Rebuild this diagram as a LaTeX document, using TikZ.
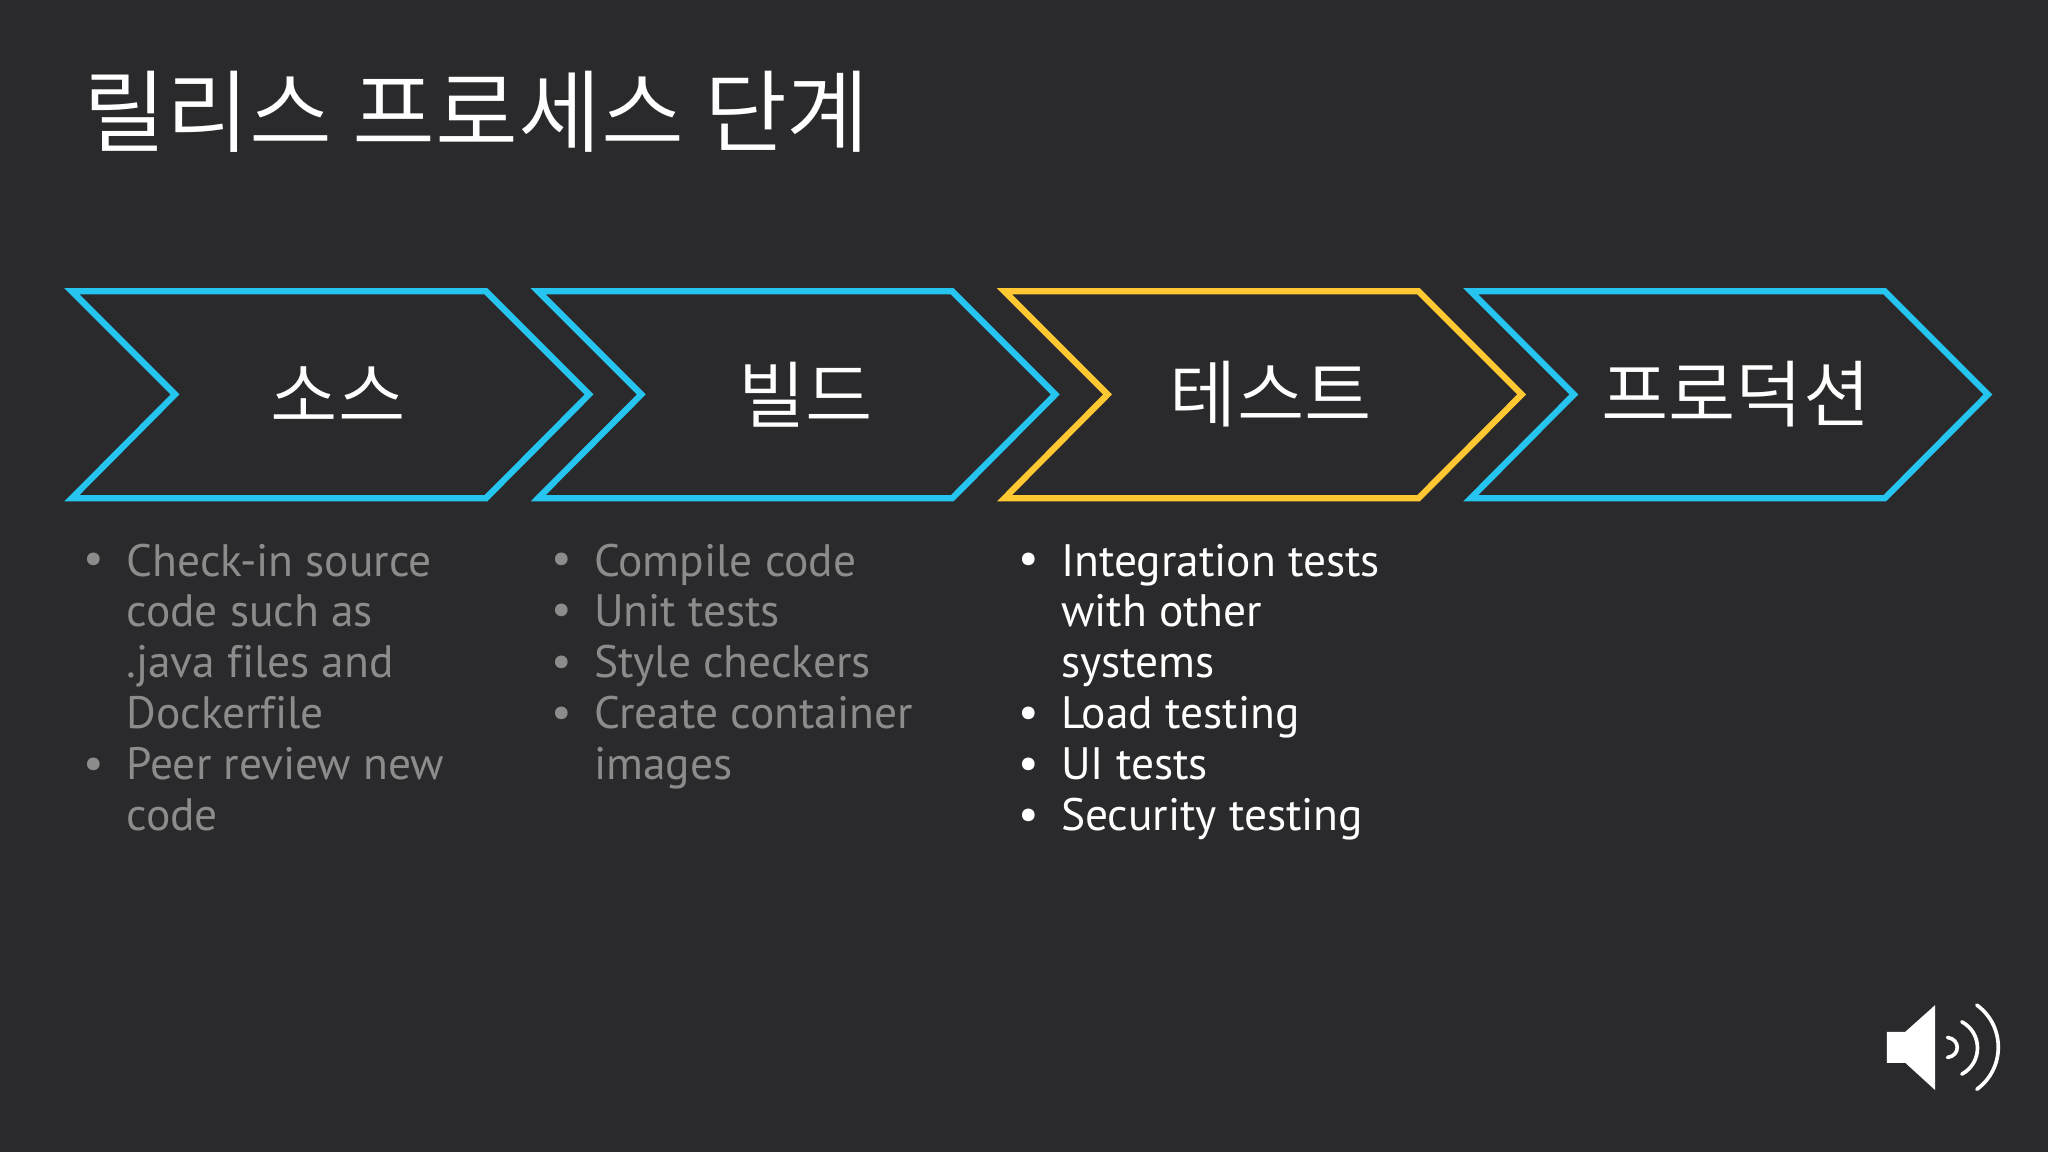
\documentclass[tikz,border=0pt]{standalone}
\usepackage{fontspec}
\setmainfont[Ligatures=NoCommon]{PT Sans}
\newfontfamily\krfont{Noto Sans CJK KR DemiLight}
\definecolor{bgc}{HTML}{2A2A2C}
\definecolor{bluec}{HTML}{25C5EF}
\definecolor{yelc}{HTML}{FFC832}
\definecolor{dimc}{HTML}{8C8C8C}
\tikzset{
 chev/.style={line width=2.4pt,miter limit=10,line join=miter},
 heading/.style={text=white,inner sep=0pt,font=\krfont\fontsize{34.5}{34.5}\selectfont,anchor=base west},
 steplabel/.style={text=white,inner sep=0pt,font=\krfont\fontsize{28}{28}\selectfont,anchor=center},
 item/.style={inner sep=0pt,anchor=base west,font=\fontsize{17.4}{20}\selectfont},
 dot/.style={inner sep=0pt,anchor=center,font=\fontsize{17.4}{20}\selectfont},
 spk/.style={white,line width=1.4pt,line cap=round}
}
\newcommand{\chevron}[3]{\draw[chev,#3] (#1,223) -- (#1+317,223) -- (#1+396,302) -- (#1+317,381.5) -- (#1,381.5) -- (#1+79,302) -- cycle;}
\begin{document}
\begin{tikzpicture}[x=0.5pt,y=-0.5pt]
\useasboundingbox[fill=bgc] (0,0) rectangle (1568,882);
\node[heading] (title) at (63.5,111.5) {릴리스 프로세스 단계};
\chevron{55}{a}{bluec}
\chevron{412}{b}{bluec}
\chevron{769}{c}{yelc}
\chevron{1126}{d}{bluec}
\node[steplabel] (s1) at (259,302) {소스};
\node[steplabel] (s2) at (617,302) {빌드};
\node[steplabel] (s3) at (973,302) {테스트};
\node[steplabel] (s4) at (1329,302) {프로덕션};
\node[dot,text=dimc] (b11) at (72,431) {•};
\node[dot,text=dimc] (b12) at (72,588) {•};
\node[item,text=dimc] (t11) at (96.5,441) {Check-in source};
\node[item,text=dimc] (t12) at (96.5,480) {code such as};
\node[item,text=dimc] (t13) at (96.5,519) {.java files and};
\node[item,text=dimc] (t14) at (96.5,558) {Dockerfile};
\node[item,text=dimc] (t15) at (96.5,597) {Peer review new};
\node[item,text=dimc] (t16) at (96.5,636) {code};
\node[dot,text=dimc] (b21) at (430,431) {•};
\node[dot,text=dimc] (b22) at (430,470) {•};
\node[dot,text=dimc] (b23) at (430,510) {•};
\node[dot,text=dimc] (b24) at (430,549) {•};
\node[item,text=dimc] (t21) at (454.5,441) {Compile code};
\node[item,text=dimc] (t22) at (454.5,480) {Unit tests};
\node[item,text=dimc] (t23) at (454.5,519) {Style checkers};
\node[item,text=dimc] (t24) at (454.5,558) {Create container};
\node[item,text=dimc] (t25) at (454.5,597) {images};
\node[dot,text=white] (b31) at (788,431) {•};
\node[dot,text=white] (b32) at (788,549) {•};
\node[dot,text=white] (b33) at (788,588) {•};
\node[dot,text=white] (b34) at (788,627) {•};
\node[item,text=white] (t31) at (812,441) {Integration tests};
\node[item,text=white] (t32) at (812,480) {with other};
\node[item,text=white] (t33) at (812,519) {systems};
\node[item,text=white] (t34) at (812,558) {Load testing};
\node[item,text=white] (t35) at (812,597) {UI tests};
\node[item,text=white] (t36) at (812,636) {Security testing};
\fill[white] (1444.6,790) -- (1458.7,790) -- (1481.6,769.5) -- (1481.6,834.6) -- (1458.7,813.7) -- (1444.6,813.7) -- cycle;
\draw[spk] (1491,794.3) .. controls (1501,795.5) and (1501,808.4) .. (1491,809.6);
\draw[spk] (1502,782.3) .. controls (1518,790.9) and (1518,813.8) .. (1502,822.4);
\draw[spk] (1513.5,769.5) .. controls (1535.4,785.4) and (1535.4,818.1) .. (1513.5,834);
\end{tikzpicture}
\end{document}
